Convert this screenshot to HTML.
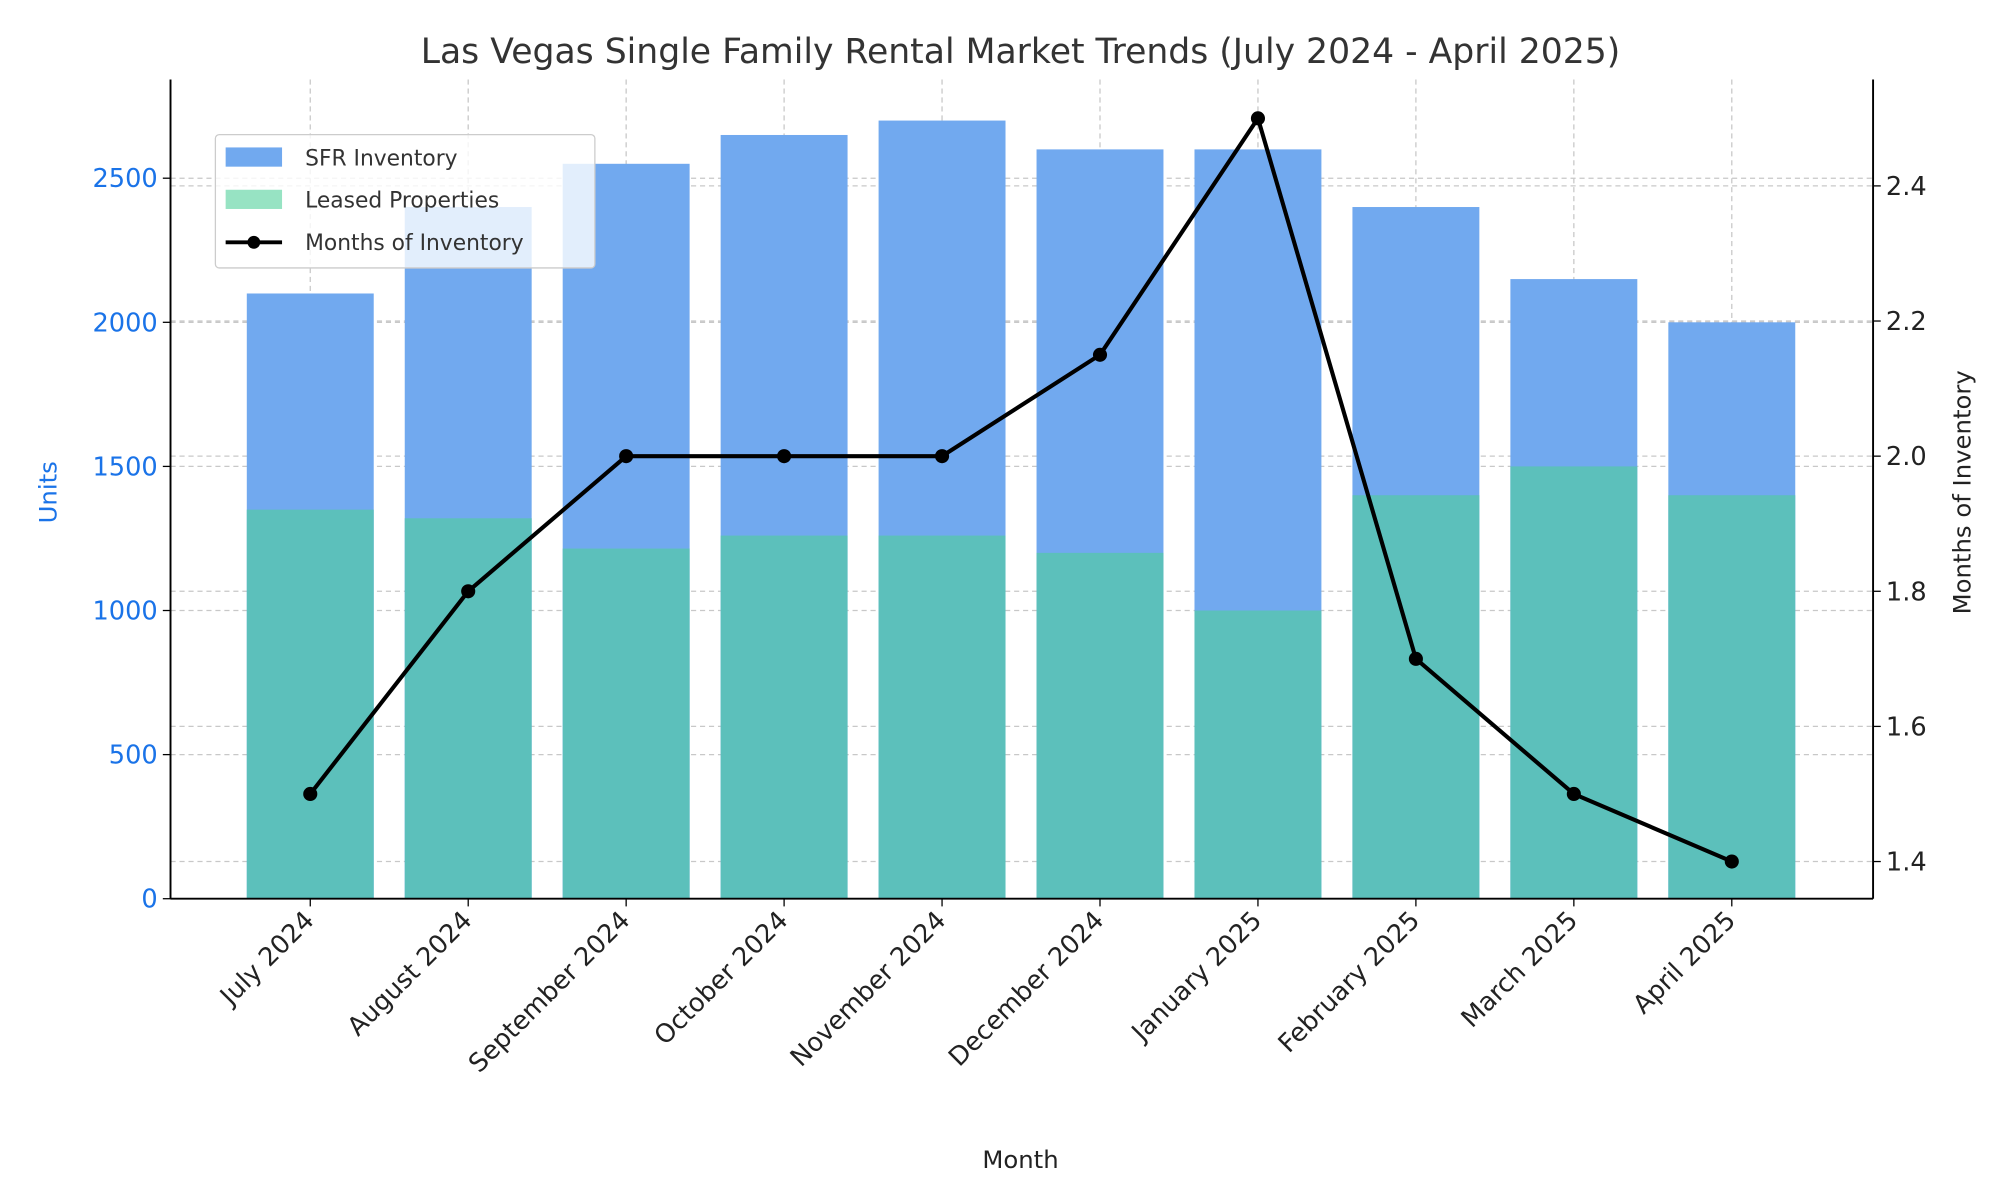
<!DOCTYPE html>
<html><head><meta charset="utf-8"><style>
html,body{margin:0;padding:0;background:#fff;}
svg{display:block;font-family:"DejaVu Sans","Liberation Sans",sans-serif;}
</style></head><body>
<svg id="chart" width="2000" height="1200" viewBox="0 0 1560 936" preserveAspectRatio="none" xmlns="http://www.w3.org/2000/svg">
<rect width="1560" height="936" fill="#fff"/>
<g id="grid"></g>
<g id="bars"></g>
<g id="line"></g>
<g id="axes"></g>
<text x="796" y="49" font-size="27" fill="#333" text-anchor="middle">Las Vegas Single Family Rental Market Trends (July 2024 - April 2025)</text>
<text x="796" y="911" font-size="19" fill="#222" text-anchor="middle">Month</text>
<text transform="translate(44,384) rotate(-90)" font-size="19" fill="#1a73e8" text-anchor="middle">Units</text>
<text transform="translate(1537,384) rotate(-90)" font-size="19" fill="#222" text-anchor="middle">Months of Inventory</text>
<g>
<rect x="168" y="105" width="296" height="104" rx="3" fill="#fff" fill-opacity="0.8" stroke="#ccc"/>
<rect x="176" y="115" width="44" height="15" fill="#71a9ef"/>
<text x="238" y="129" font-size="17" fill="#333">SFR Inventory</text>
<rect x="176" y="148" width="44" height="15" fill="#97e3c3"/>
<text x="238" y="162" font-size="17" fill="#333">Leased Properties</text>
<line x1="176" y1="189" x2="220" y2="189" stroke="#000" stroke-width="3"/>
<circle cx="198" cy="189" r="5" fill="#000"/>
<text x="238" y="195" font-size="17" fill="#333">Months of Inventory</text>
</g>
</svg>
<script>
const months = ["July 2024","August 2024","September 2024","October 2024","November 2024","December 2024","January 2025","February 2025","March 2025","April 2025"];
const sfrInventory = [2100,2400,2550,2650,2700,2600,2600,2400,2150,2000];
const leased = [1350,1320,1215,1260,1260,1200,1000,1400,1500,1400];
const monthsOfInventory = [1.5,1.8,2.0,2.0,2.0,2.15,2.5,1.7,1.5,1.4];
const leftTicks = [0,500,1000,1500,2000,2500];
const rightTicks = [1.4,1.6,1.8,2.0,2.2,2.4];

const NS="http://www.w3.org/2000/svg";
const L=133,R=1461,T=62,B=701;
const yL=v=>B-v*(B-139)/2500;
const yR=v=>672-(v-1.4)*(672-145)/1.0;
const xC=i=>242+i*123.2;
const bw=99;
function mk(tag,attrs,parent,text){const e=document.createElementNS(NS,tag);for(const k in attrs)e.setAttribute(k,attrs[k]);if(text!==undefined)e.textContent=text;parent.appendChild(e);return e;}
const grid=document.getElementById('grid'),bars=document.getElementById('bars'),line=document.getElementById('line'),axes=document.getElementById('axes');
leftTicks.forEach(v=>{const g=mk('line',{x1:L,x2:R,y1:yL(v),y2:yL(v),stroke:'#c8c8c8','stroke-dasharray':'4,3','stroke-width':1},grid);


mk('line',{x1:L-6,x2:L,y1:yL(v),y2:yL(v),stroke:'#000'},axes);
const t=mk('text',{x:L-10,y:yL(v)+7,'font-size':20,fill:'#1a73e8','text-anchor':'end'},axes,String(v));

});
rightTicks.forEach(v=>{const g=mk('line',{x1:L,x2:R,y1:yR(v),y2:yR(v),stroke:'#c8c8c8','stroke-dasharray':'4,3','stroke-width':1},grid);


mk('line',{x1:R,x2:R+6,y1:yR(v),y2:yR(v),stroke:'#000'},axes);
const t=mk('text',{x:R+10,y:yR(v)+7,'font-size':20,fill:'#222'},axes,v.toFixed(1));

});
months.forEach((m,i)=>{const x=xC(i);
mk('line',{x1:x,x2:x,y1:T,y2:B,stroke:'#c8c8c8','stroke-dasharray':'4,3'},grid);
const b=mk('rect',{x:x-bw/2,y:yL(sfrInventory[i]),width:bw,height:B-yL(sfrInventory[i]),fill:'#71a9ef'},bars);


const c=mk('rect',{x:x-bw/2,y:yL(leased[i]),width:bw,height:B-yL(leased[i]),fill:'#5cc0bb'},bars);


mk('line',{x1:x,x2:x,y1:B,y2:B+6,stroke:'#000'},axes);
const t=mk('text',{transform:`translate(${x+4},${B+18}) rotate(-45)`,'font-size':20,fill:'#222','text-anchor':'end'},axes,m);

});
const pts=monthsOfInventory.map((v,i)=>xC(i)+','+yR(v)).join(' ');
const pl=mk('polyline',{points:pts,fill:'none',stroke:'#000','stroke-width':3.2,'stroke-linejoin':'round'},line);


monthsOfInventory.forEach((v,i)=>{const p=mk('circle',{cx:xC(i),cy:yR(v),r:5.5,fill:'#000'},line);

});
mk('line',{x1:L,x2:L,y1:T,y2:B,stroke:'#000','stroke-width':1.5},axes);
mk('line',{x1:R,x2:R,y1:T,y2:B,stroke:'#000','stroke-width':1.5},axes);
mk('line',{x1:L,x2:R,y1:B,y2:B,stroke:'#000','stroke-width':1.5},axes);
</script>
</body></html>
